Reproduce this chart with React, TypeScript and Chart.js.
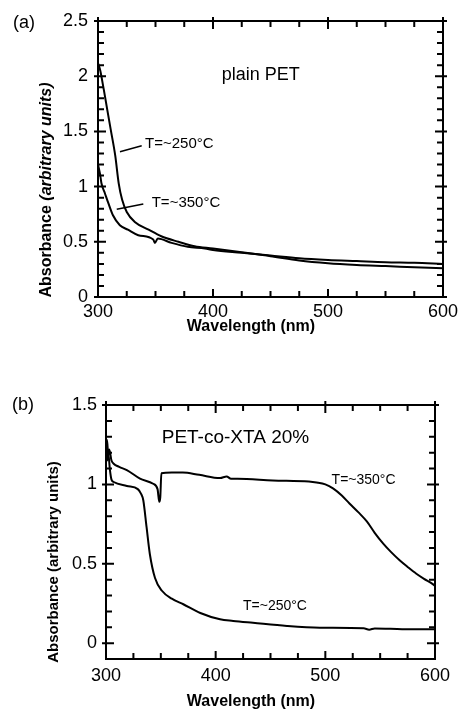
import { useEffect, useRef } from 'react';
import { Chart, registerables } from 'chart.js';
Chart.register(...registerables);

const FONT = '"Liberation Sans", Arial, sans-serif';

// ---------- Panel (a): plain PET ----------
const wlA250 = [300, 302, 305, 308, 311, 315, 318, 321, 325, 332, 344, 355, 370, 384, 400, 425, 450, 475, 500, 525, 550, 575, 600];
const absA250 = [2.12, 2.05, 1.88, 1.7, 1.52, 1.28, 1.03, 0.88, 0.77, 0.68, 0.61, 0.55, 0.5, 0.46, 0.44, 0.405, 0.37, 0.33, 0.305, 0.29, 0.28, 0.27, 0.26];
const wlA350 = [300, 302, 303, 306, 309, 313, 319, 326, 335, 348, 349.5, 352, 364, 378, 393, 400, 425, 450, 475, 500, 525, 550, 575, 600];
const absA350 = [1.2, 1.1, 1.03, 0.94, 0.85, 0.74, 0.65, 0.61, 0.56, 0.52, 0.49, 0.53, 0.49, 0.455, 0.44, 0.425, 0.4, 0.375, 0.35, 0.335, 0.325, 0.315, 0.31, 0.3];
const xMajorA = [300, 400, 500, 600];
const xMinorA = [325, 350, 375, 425, 450, 475, 525, 550, 575];
const yMajorA = [0, 0.5, 1, 1.5, 2, 2.5];
const yMinorA = [0.1, 0.2, 0.3, 0.4, 0.6, 0.7, 0.8, 0.9, 1.1, 1.2, 1.3, 1.4, 1.6, 1.7, 1.8, 1.9, 2.1, 2.2, 2.3, 2.4];

// ---------- Panel (b): PET-co-XTA 20% ----------
const wlB350 = [300, 301, 302, 303, 305, 307, 312, 319, 331, 343, 347, 348.6, 349.5, 350.5, 360, 370, 385, 404, 410, 414, 420, 452, 485, 492, 500, 507, 515, 522, 530, 538, 545, 553, 560, 568, 575, 583, 590, 598, 600];
const absB350 = [1.22, 1.28, 1.18, 1.22, 1.15, 1.13, 1.11, 1.09, 1.036, 1.004, 0.97, 0.89, 0.92, 1.07, 1.075, 1.075, 1.06, 1.04, 1.05, 1.035, 1.035, 1.025, 1.018, 1.012, 1.0, 0.975, 0.93, 0.88, 0.825, 0.765, 0.695, 0.625, 0.573, 0.52, 0.48, 0.437, 0.405, 0.372, 0.36];
const wlB250 = [300, 301, 302, 303.6, 305, 307, 319, 329, 332, 334, 337, 340, 344.7, 351, 360, 370.5, 386, 404, 416, 434, 465, 495, 535, 540, 545, 570, 600];
const absB250 = [1.25, 1.15, 1.2, 1.09, 1.03, 1.015, 0.99, 0.97, 0.94, 0.9, 0.73, 0.56, 0.41, 0.33, 0.28, 0.245, 0.19, 0.15, 0.14, 0.128, 0.108, 0.097, 0.093, 0.085, 0.092, 0.088, 0.087];
const xMajorB = [300, 400, 500, 600];
const xMinorB = [325, 350, 375, 425, 450, 475, 525, 550, 575];
const yMajorB = [0, 0.5, 1, 1.5];
const yMinorB = [0.1, 0.2, 0.3, 0.4, 0.6, 0.7, 0.8, 0.9, 1.1, 1.2, 1.3, 1.4];

const pts = (xs: number[], ys: number[]) => xs.map((x, i) => ({ x, y: ys[i] }));

const decorPlugin = {
  id: 'decor',
  afterDraw(chart: any, _args: any, o: any) {
    const { ctx, chartArea: a } = chart;
    const xs = chart.scales.x;
    const ys = chart.scales.y;
    ctx.save();
    ctx.strokeStyle = '#000';
    ctx.fillStyle = '#000';
    ctx.lineWidth = 2;
    ctx.strokeRect(a.left, a.top, a.right - a.left, a.bottom - a.top);
    ctx.beginPath();
    const MI = 8, MO = 4, NI = 6;
    for (const v of o.xMajor) {
      const p = xs.getPixelForValue(v);
      ctx.moveTo(p, a.bottom); ctx.lineTo(p, a.bottom - MI);
      ctx.moveTo(p, a.top - MO); ctx.lineTo(p, a.top + MI);
    }
    for (const v of o.xMinor) {
      const p = xs.getPixelForValue(v);
      ctx.moveTo(p, a.bottom); ctx.lineTo(p, a.bottom - NI);
      ctx.moveTo(p, a.top); ctx.lineTo(p, a.top + NI);
    }
    for (const v of o.yMajor) {
      const p = ys.getPixelForValue(v);
      ctx.moveTo(a.left - MO, p); ctx.lineTo(a.left + MI, p);
      ctx.moveTo(a.right + MO, p); ctx.lineTo(a.right - MI, p);
    }
    for (const v of o.yMinor) {
      const p = ys.getPixelForValue(v);
      ctx.moveTo(a.left, p); ctx.lineTo(a.left + NI, p);
      ctx.moveTo(a.right, p); ctx.lineTo(a.right - NI, p);
    }
    ctx.stroke();

    // leader lines
    ctx.lineWidth = 1.5;
    ctx.beginPath();
    for (const l of o.leaders || []) {
      ctx.moveTo(xs.getPixelForValue(l[0]), ys.getPixelForValue(l[1]));
      ctx.lineTo(xs.getPixelForValue(l[2]), ys.getPixelForValue(l[3]));
    }
    ctx.stroke();

    // annotations in data coordinates
    ctx.textAlign = 'left';
    ctx.textBaseline = 'middle';
    for (const t of o.notes || []) {
      ctx.font = t.font;
      ctx.fillText(t.text, xs.getPixelForValue(t.x), ys.getPixelForValue(t.y));
    }

    // panel label
    ctx.font = `18px ${FONT}`;
    ctx.fillText(o.panel.text, o.panel.x, o.panel.y);

    // x title
    ctx.textAlign = 'center';
    ctx.font = o.xTitle.font;
    ctx.fillText(o.xTitle.text, o.xTitle.x, o.xTitle.y);

    // y title (rotated, possibly mixed style)
    ctx.save();
    ctx.translate(o.yTitle.x, o.yTitle.y);
    ctx.rotate(-Math.PI / 2);
    ctx.textAlign = 'left';
    let total = 0;
    for (const part of o.yTitle.parts) { ctx.font = part.font; total += ctx.measureText(part.text).width; }
    let cx = -total / 2;
    for (const part of o.yTitle.parts) {
      ctx.font = part.font;
      ctx.fillText(part.text, cx, 0);
      cx += ctx.measureText(part.text).width;
    }
    ctx.restore();
    ctx.restore();
  },
};

function makeConfig(p: any) {
  return {
    type: 'line',
    data: {
      datasets: p.series.map((s: any) => ({
        data: s,
        borderColor: '#000',
        borderWidth: 2,
        pointRadius: 0,
        fill: false,
        tension: 0,
        cubicInterpolationMode: 'monotone',
      })),
    },
    options: {
      responsive: false,
      animation: false,
      devicePixelRatio: 1,
      parsing: true,
      layout: { padding: p.padding },
      plugins: {
        legend: { display: false },
        tooltip: { enabled: false },
        decor: p.decor,
      },
      scales: {
        x: {
          type: 'linear',
          min: 300,
          max: 600,
          afterBuildTicks: (s: any) => { s.ticks = p.decor.xMajor.map((v: number) => ({ value: v })); },
          afterFit: (s: any) => { s.height = p.xHeight; s.paddingLeft = 0; s.paddingRight = 0; },
          grid: { display: false, drawTicks: false },
          border: { display: false },
          ticks: {
            color: '#000',
            font: { family: FONT, size: 18 },
            padding: p.xPad,
            maxRotation: 0,
            autoSkip: false,
            callback: (v: any) => String(v),
          },
        },
        y: {
          type: 'linear',
          min: p.yMin,
          max: p.yMax,
          afterBuildTicks: (s: any) => { s.ticks = p.decor.yMajor.map((v: number) => ({ value: v })); },
          afterFit: (s: any) => { s.width = p.yWidth; s.paddingTop = 0; s.paddingBottom = 0; },
          grid: { display: false, drawTicks: false },
          border: { display: false },
          ticks: {
            color: '#000',
            font: { family: FONT, size: 18 },
            padding: p.yPad,
            autoSkip: false,
            callback: (v: any) => String(Math.round(v * 10) / 10),
          },
        },
      },
    },
    plugins: [decorPlugin],
  } as any;
}

const panelA = {
  series: [pts(wlA250, absA250), pts(wlA350, absA350)],
  padding: { left: 0, right: 15, top: 21, bottom: 0 },
  xHeight: 53,
  yWidth: 98,
  xPad: 4,
  yPad: 10,
  yMin: 0,
  yMax: 2.5,
  decor: {
    xMajor: xMajorA, xMinor: xMinorA, yMajor: yMajorA, yMinor: yMinorA,
    notes: [
      { text: 'plain PET', x: 407.6, y: 2.01, font: `18px ${FONT}` },
      { text: 'T=~250°C', x: 340.9, y: 1.386, font: `15px ${FONT}` },
      { text: 'T=~350°C', x: 346.7, y: 0.851, font: `15px ${FONT}` },
    ],
    leaders: [
      [319.1, 1.316, 338, 1.37],
      [316.3, 0.794, 339.4, 0.842],
    ],
    panel: { text: '(a)', x: 13, y: 23 },
    xTitle: { text: 'Wavelength (nm)', x: 251, y: 327, font: `bold 16px ${FONT}` },
    yTitle: {
      x: 47, y: 190,
      parts: [
        { text: 'Absorbance ', font: `bold 16px ${FONT}` },
        { text: '(arbitrary units)', font: `italic bold 16px ${FONT}` },
      ],
    },
  },
};

const panelB = {
  series: [pts(wlB350, absB350), pts(wlB250, absB250)],
  padding: { left: 0, right: 23, top: 55, bottom: 0 },
  xHeight: 52,
  yWidth: 106,
  xPad: 6,
  yPad: 9,
  yMin: -0.1,
  yMax: 1.5,
  decor: {
    xMajor: xMajorB, xMinor: xMinorB, yMajor: yMajorB, yMinor: yMinorB,
    notes: [
      { text: 'PET-co-XTA 20%', x: 350.8, y: 1.291, font: `19px ${FONT}` },
      { text: 'T=~350°C', x: 505.7, y: 1.025, font: `14px ${FONT}` },
      { text: 'T=~250°C', x: 424.9, y: 0.234, font: `14px ${FONT}` },
    ],
    leaders: [],
    panel: { text: '(b)', x: 12, y: 55 },
    xTitle: { text: 'Wavelength (nm)', x: 251, y: 352, font: `bold 16px ${FONT}` },
    yTitle: {
      x: 54, y: 212,
      parts: [{ text: 'Absorbance (arbitrary units)', font: `bold 15px ${FONT}` }],
    },
  },
};

function Panel({ spec, top, height }: { spec: any; top: number; height: number }) {
  const ref = useRef<HTMLCanvasElement | null>(null);
  useEffect(() => {
    if (!ref.current) return;
    const chart = new Chart(ref.current, makeConfig(spec));
    return () => chart.destroy();
  }, [spec]);
  return (
    <canvas
      ref={ref}
      width={458}
      height={height}
      style={{ position: 'absolute', left: 0, top, width: 458, height }}
    />
  );
}

export default function App() {
  return (
    <div style={{ position: 'absolute', left: 0, top: 0, width: 458, height: 711, background: '#fff', overflow: 'hidden' }}>
      <Panel spec={panelA} top={0} height={350} />
      <Panel spec={panelB} top={350} height={361} />
    </div>
  );
}
